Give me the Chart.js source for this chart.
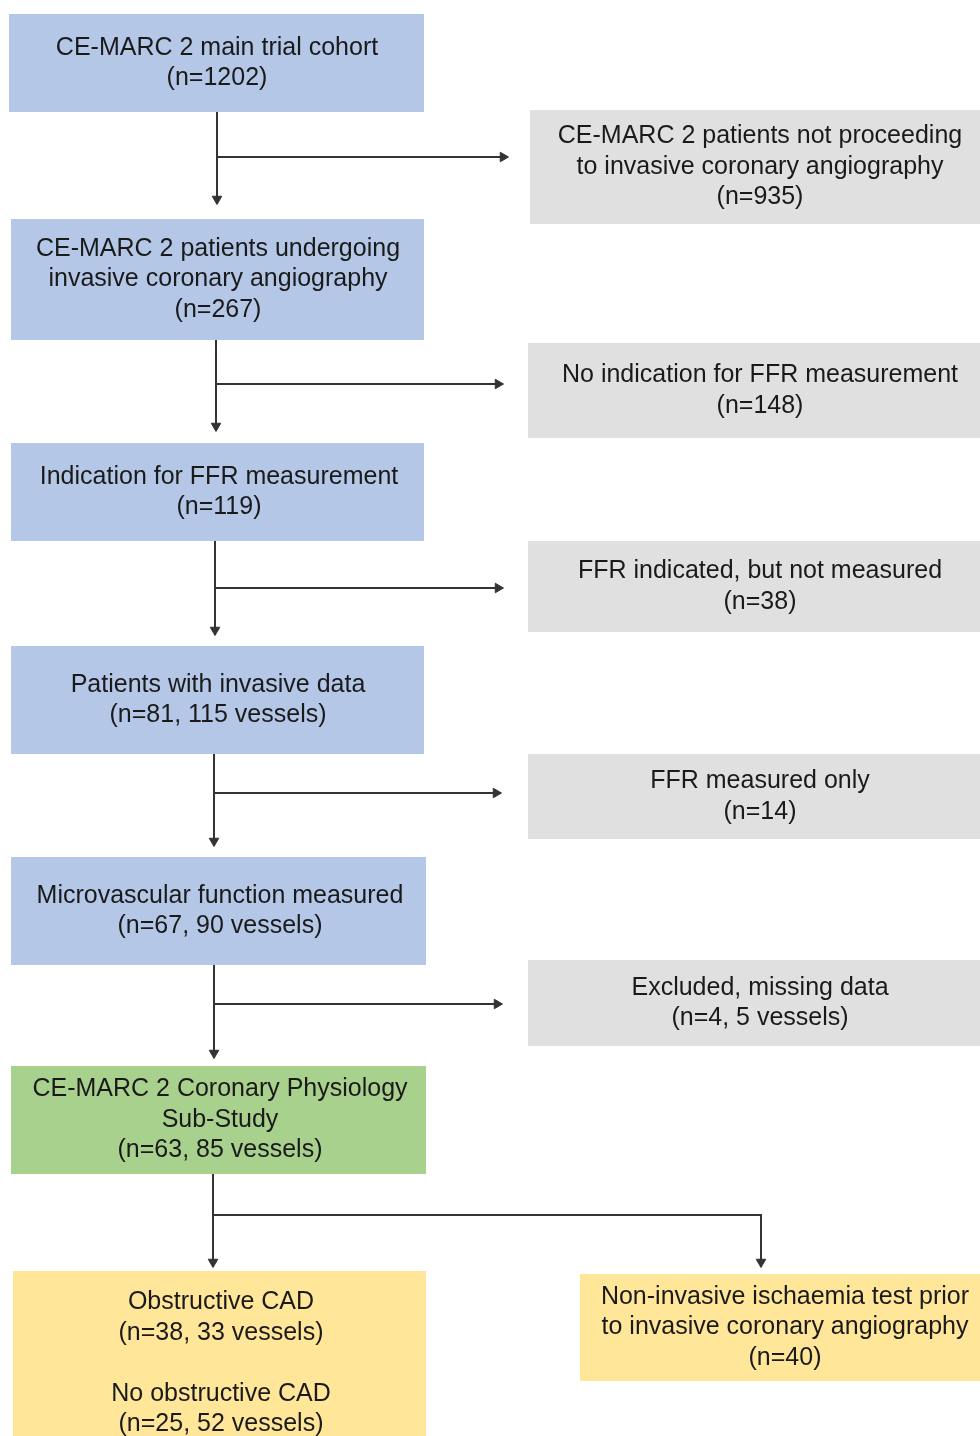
<!DOCTYPE html>
<html>
<head>
<meta charset="utf-8">
<script src="https://cdn.jsdelivr.net/npm/chart.js@4.4.1/dist/chart.umd.min.js"></script>
<style>
  html, body { margin: 0; padding: 0; background: #fff; }
  canvas { display: block; }
</style>
</head>
<body>
<canvas id="flow" width="980" height="1436"></canvas>
<script>
// Textos do fluxograma
const stageLabels = [
    ['CE-MARC 2 main trial cohort'],
    ['CE-MARC 2 patients not proceeding', 'to invasive coronary angiography'],
    ['CE-MARC 2 patients undergoing', 'invasive coronary angiography'],
    ['No indication for FFR measurement'],
    ['Indication for FFR measurement'],
    ['FFR indicated, but not measured'],
    ['Patients with invasive data'],
    ['FFR measured only'],
    ['Microvascular function measured'],
    ['Excluded, missing data'],
    ['CE-MARC 2 Coronary Physiology', 'Sub-Study'],
    ['Non-invasive ischaemia test prior', 'to invasive coronary angiography']
];
const stageCounts = [
    '(n=1202)', '(n=935)', '(n=267)', '(n=148)', '(n=119)', '(n=38)',
    '(n=81, 115 vessels)', '(n=14)', '(n=67, 90 vessels)', '(n=4, 5 vessels)',
    '(n=63, 85 vessels)', '(n=40)'
];
const outcomeLabels = ['Obstructive CAD', 'No obstructive CAD'];
const outcomeCounts = ['(n=38, 33 vessels)', '(n=25, 52 vessels)'];

// Cores
const blue = '#b4c7e7';
const grey = '#e0e0e0';
const green = '#a9d18e';
const yellow = '#ffe699';

// Posicao das caixas (coordenadas da escala)
const boxLayout = [
    { x0: 9,   x1: 424, y0: 14,   y1: 112,  cx: 217, fill: blue },
    { x0: 530, x1: 992, y0: 110,  y1: 224,  cx: 760, fill: grey },
    { x0: 11,  x1: 424, y0: 219,  y1: 340,  cx: 218, fill: blue },
    { x0: 528, x1: 992, y0: 343,  y1: 438,  cx: 760, fill: grey },
    { x0: 11,  x1: 424, y0: 443,  y1: 541,  cx: 219, fill: blue },
    { x0: 528, x1: 992, y0: 541,  y1: 632,  cx: 760, fill: grey },
    { x0: 11,  x1: 424, y0: 646,  y1: 754,  cx: 218, fill: blue },
    { x0: 528, x1: 992, y0: 754,  y1: 839,  cx: 760, fill: grey },
    { x0: 11,  x1: 426, y0: 857,  y1: 965,  cx: 220, fill: blue },
    { x0: 528, x1: 992, y0: 960,  y1: 1046, cx: 760, fill: grey },
    { x0: 11,  x1: 426, y0: 1066, y1: 1174, cx: 220, fill: green },
    { x0: 580, x1: 992, y0: 1274, y1: 1381, cx: 785, fill: yellow }
];
const outcomeBox = { x0: 13, x1: 426, y0: 1271, y1: 1456, cx: 221, fill: yellow };

// Ligacoes: tronco vertical e ramo lateral
const connectors = [
    { x: 217, y0: 112,  y1: 199,  by: 157,  bx1: 503 },
    { x: 216, y0: 340,  y1: 426,  by: 384,  bx1: 498 },
    { x: 215, y0: 541,  y1: 630,  by: 588,  bx1: 498 },
    { x: 214, y0: 754,  y1: 841,  by: 793,  bx1: 496 },
    { x: 214, y0: 965,  y1: 1053, by: 1004, bx1: 497 }
];
const split = { x: 213, y0: 1174, y1: 1262, by: 1215, x2: 761 };

const lineColor = '#333';
const lineHeight = 30.5;

// Datasets das linhas
const lineSets = [];
const heads = [];
connectors.forEach(c => {
    lineSets.push([{ x: c.x, y: c.y0 }, { x: c.x, y: c.y1 }]);
    lineSets.push([{ x: c.x, y: c.by }, { x: c.bx1, y: c.by }]);
    heads.push({ x: c.x, y: c.y1, r: 180 });
    heads.push({ x: c.bx1, y: c.by, r: 90 });
});
lineSets.push([{ x: split.x, y: split.y0 }, { x: split.x, y: split.y1 }]);
lineSets.push([{ x: split.x, y: split.by }, { x: split.x2, y: split.by }, { x: split.x2, y: split.y1 }]);
heads.push({ x: split.x, y: split.y1, r: 180 });
heads.push({ x: split.x2, y: split.y1, r: 180 });

const datasets = lineSets.map(pts => ({
    data: pts,
    showLine: true,
    borderColor: lineColor,
    borderWidth: 2,
    pointRadius: 0,
    clip: false
}));
datasets.push({
    data: heads.map(h => ({ x: h.x, y: h.y })),
    showLine: false,
    pointStyle: 'triangle',
    pointRadius: 5.5,
    rotation: heads.map(h => h.r),
    backgroundColor: lineColor,
    borderColor: lineColor,
    borderWidth: 1,
    clip: false
});

// Plugin para caixas e textos
const flowBoxes = {
    id: 'flowBoxes',
    beforeDatasetsDraw(chart) {
        const { ctx, scales: { x, y } } = chart;
        ctx.save();
        boxLayout.concat([outcomeBox]).forEach(b => {
            const px0 = x.getPixelForValue(b.x0), px1 = x.getPixelForValue(b.x1);
            const py0 = y.getPixelForValue(b.y0), py1 = y.getPixelForValue(b.y1);
            ctx.fillStyle = b.fill;
            ctx.fillRect(px0, py0, px1 - px0, py1 - py0);
        });
        ctx.restore();
    },
    afterDatasetsDraw(chart) {
        const { ctx, scales: { x, y } } = chart;
        ctx.save();
        ctx.fillStyle = '#1a1a1a';
        ctx.font = '25px "Liberation Sans", Arial, sans-serif';
        ctx.textAlign = 'center';
        ctx.textBaseline = 'middle';
        const drawLines = (b, lines) => {
            const mid = (b.y0 + b.y1) / 2;
            const start = mid - (lines.length - 1) * lineHeight / 2;
            lines.forEach((t, i) => {
                ctx.fillText(t, x.getPixelForValue(b.cx), y.getPixelForValue(start + i * lineHeight));
            });
        };
        boxLayout.forEach((b, i) => drawLines(b, stageLabels[i].concat([stageCounts[i]])));
        drawLines(outcomeBox, [outcomeLabels[0], outcomeCounts[0], '', outcomeLabels[1], outcomeCounts[1]]);
        ctx.restore();
    }
};

const flowCtx = document.getElementById('flow').getContext('2d');
const flowChart = new Chart(flowCtx, {
    type: 'scatter',
    data: { datasets: datasets },
    options: {
        responsive: false,
        animation: false,
        layout: { padding: 0, autoPadding: false },
        plugins: { legend: { display: false }, tooltip: { enabled: false } },
        scales: {
            x: { type: 'linear', min: 0, max: 980, display: false },
            y: { type: 'linear', min: 0, max: 1436, reverse: true, display: false }
        }
    },
    plugins: [flowBoxes]
});
</script>
</body>
</html>
